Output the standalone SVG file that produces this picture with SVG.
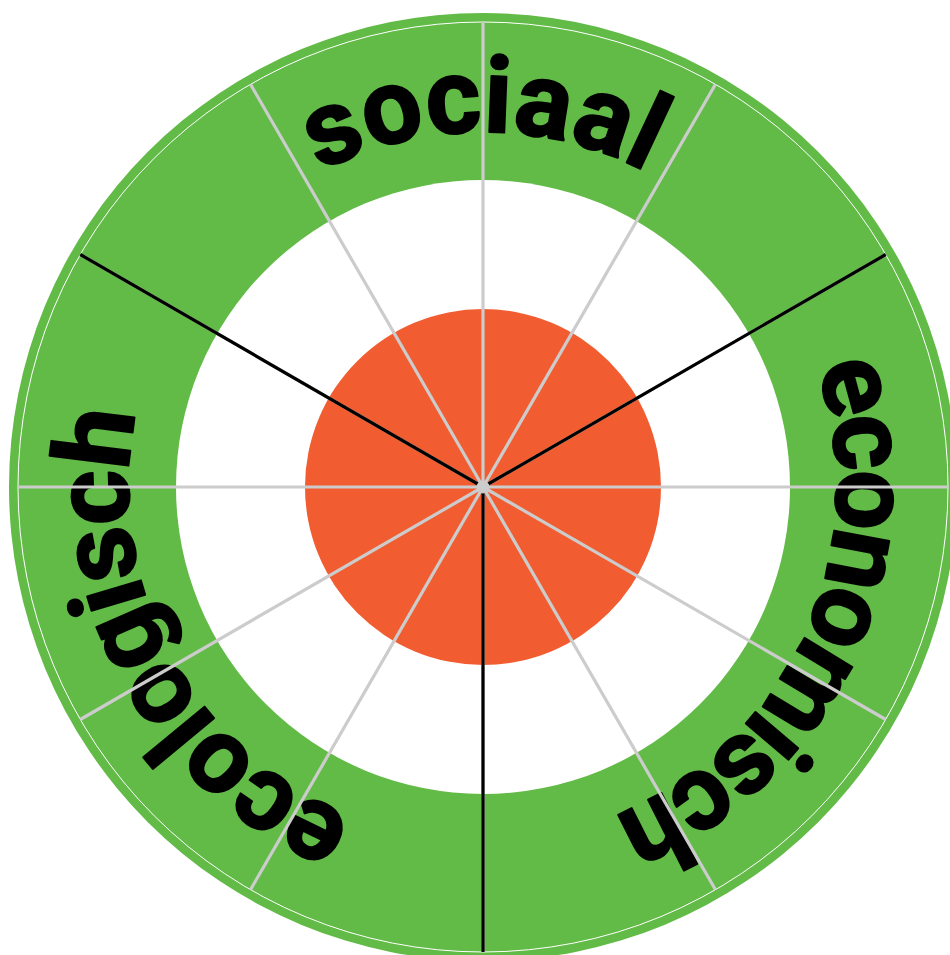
<svg xmlns="http://www.w3.org/2000/svg" xmlns:xlink="http://www.w3.org/1999/xlink" width="950" height="955" viewBox="0 0 950 955">
  <style>
    .label { font-family: "Roboto", "Liberation Sans", sans-serif; font-weight: bold; font-size: 106px; fill: #000; stroke: #000; stroke-width: 2; stroke-linejoin: round; }
    .spoke { stroke: #cccccc; stroke-width: 3.2; }
    .divider { stroke: #000; stroke-width: 3.2; }
  </style>
  <defs>
    <path id="arc-sociaal" d="M 128 487 A 355 355 0 0 1 838 487"/>
    <path id="arc-ecologisch" d="M 651.8 799.3 A 355 355 0 0 1 314.2 174.7"/>
    <path id="arc-economisch" d="M 627.4 162.7 A 355 355 0 0 1 338.6 811.3"/>
  </defs>
  <rect width="950" height="955" fill="#ffffff"/>
  <g id="outer-ring">
    <circle cx="483" cy="487" r="474" fill="#62bb47"/>
    <circle cx="483" cy="487" r="465" fill="none" stroke="#ffffff" stroke-width="1"/>
  </g>
  <g id="middle-ring">
    <circle cx="483" cy="487" r="307" fill="#ffffff"/>
  </g>
  <g id="core">
    <circle cx="483" cy="487" r="178" fill="#f15c30"/>
  </g>
  <g id="label-sociaal">
    <text class="label"><textPath xlink:href="#arc-sociaal" href="#arc-sociaal" startOffset="50%" text-anchor="middle">sociaal</textPath></text>
  </g>
  <g id="label-ecologisch">
    <text class="label" letter-spacing="-2"><textPath xlink:href="#arc-ecologisch" href="#arc-ecologisch" startOffset="50%" text-anchor="middle">ecologisch</textPath></text>
  </g>
  <g id="label-economisch">
    <text class="label" letter-spacing="-4"><textPath xlink:href="#arc-economisch" href="#arc-economisch" startOffset="50%" text-anchor="middle">economisch</textPath></text>
  </g>
  <g id="connectors">
    <line class="spoke" x1="483" y1="487" x2="948" y2="487"/>
    <line class="spoke" x1="483" y1="487" x2="885.7" y2="254.5"/>
    <line class="spoke" x1="483" y1="487" x2="715.5" y2="84.3"/>
    <line class="spoke" x1="483" y1="487" x2="483" y2="22"/>
    <line class="spoke" x1="483" y1="487" x2="250.5" y2="84.3"/>
    <line class="spoke" x1="483" y1="487" x2="80.3" y2="254.5"/>
    <line class="spoke" x1="483" y1="487" x2="18" y2="487"/>
    <line class="spoke" x1="483" y1="487" x2="80.3" y2="719.5"/>
    <line class="spoke" x1="483" y1="487" x2="250.5" y2="889.7"/>
    <line class="spoke" x1="483" y1="487" x2="483" y2="952"/>
    <line class="spoke" x1="483" y1="487" x2="715.5" y2="889.7"/>
    <line class="spoke" x1="483" y1="487" x2="885.7" y2="719.5"/>
    <line class="divider" x1="483" y1="487" x2="885.7" y2="254.5"/>
    <line class="divider" x1="483" y1="487" x2="80.3" y2="254.5"/>
    <line class="divider" x1="483" y1="487" x2="483" y2="952"/>
    <circle cx="483" cy="487" r="6.5" fill="#cccccc"/>
  </g>
</svg>
